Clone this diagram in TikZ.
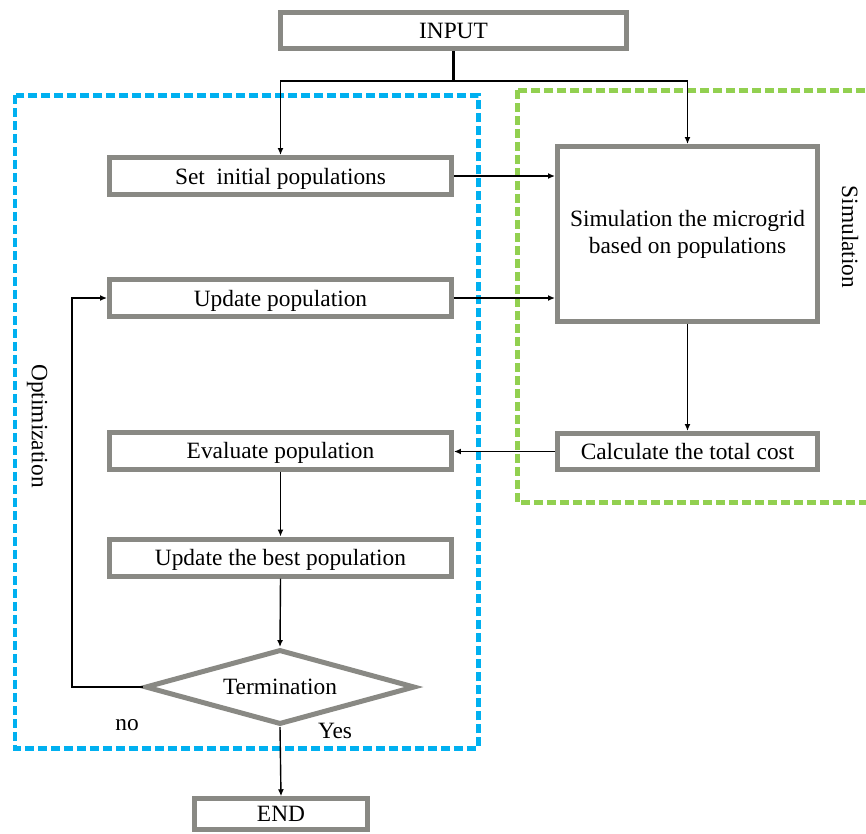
\documentclass[tikz,border=0pt]{standalone}
\usepackage{fontspec}
\setmainfont{Liberation Serif}
\usetikzlibrary{shapes.geometric,arrows.meta,positioning}

\definecolor{boxgray}{RGB}{137,137,132}
\definecolor{optblue}{RGB}{0,176,240}
\definecolor{simgreen}{RGB}{146,208,80}

\tikzset{
	caja/.style={draw=boxgray, line width=0.1cm, fill=white, inner sep=0pt, minimum height=0.74cm, text depth=0pt},
	flecha/.style={-{Latex[length=1.4mm,width=1.2mm]}, line width=0.8pt},
	zona/.style={line width=0.1cm, dash pattern=on 0.18cm off 0.08cm}
}

\begin{document}
\begin{tikzpicture}[x=0.02cm, y=-0.02cm, font=\fontsize{13.3}{15.5}\selectfont]
	\useasboundingbox (0,0) rectangle (866,833);
	% Zonas
		\draw[zona, optblue] (15,95) rectangle (478,748);
		\draw[zona, simgreen] (517,90) rectangle (890,502);

	% Cajas
		\node[caja, minimum width=6.92cm, minimum height=0.72cm] (input) at (453.5,30.5) {INPUT};
		\node[caja, minimum width=6.84cm] (init) at (280.5,176) {Set\ \ initial populations};
		\node[caja, minimum width=6.84cm] (update) at (280.5,298) {Update population};
		\node[caja, minimum width=6.84cm] (eval) at (280.5,450.5) {Evaluate population};
		\node[caja, minimum width=6.84cm] (best) at (280.5,557.5) {Update the best population};
		\node[diamond, draw=boxgray, fill=white, line width=0.1cm, aspect=3.6, inner sep=0pt,
			minimum width=5.4cm, minimum height=1.5cm] (term) at (280,687) {Termination};
		\node[caja, minimum width=3.46cm, minimum height=0.61cm] (end) at (281,814) {END};
		\node[caja, minimum width=5.2cm, minimum height=3.5cm, align=center, text depth=] (sim) at (687.5,234) {Simulation the microgrid\\based on populations};
		\node[caja, minimum width=5.2cm, minimum height=0.72cm] (cost) at (687.5,451.5) {Calculate the total cost};

	% Etiquetas
		\node[rotate=-90] (simlabel) at (850,237) {Simulation};
		\node[rotate=-90] (optlabel) at (37,426) {Optimization};
		\node[anchor=base] (no) at (127,730) {no};
		\node[anchor=base] (yes) at (335,738) {Yes};

	% Flechas
		\coordinate (split) at (453.5,81);
		\draw[line width=1.6pt] (input.south) -- (split);
		\draw[flecha] (split) -| (init.north);
		\draw[flecha] (split) -| (sim.north);
		\draw[flecha] (init.east) -- (init.east -| sim.west);
		\draw[flecha] (update.east) -- (update.east -| sim.west);
		\draw[flecha] (sim.south) -- (cost.north);
		\draw[flecha] (cost.west) -- (cost.west -| eval.east);
		\draw[flecha] (eval.south) -- (best.north);
		\draw[flecha] (best.south) -- (term.north);
		\coordinate (bucle) at (72,687);
		\draw[flecha] (term.west) -- (bucle) |- (update.west);
		\draw[flecha] (term.south) -- (end.north);
\end{tikzpicture}
\end{document}
